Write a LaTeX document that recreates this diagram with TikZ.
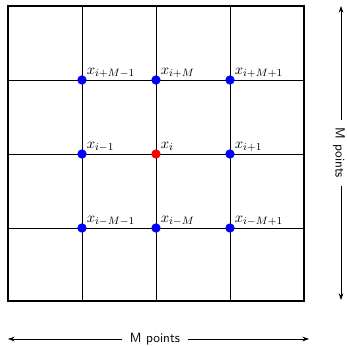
\documentclass[tikz,border=0pt]{standalone}
\usetikzlibrary{arrows.meta}
\begin{document}
\begin{tikzpicture}[x=0.75pt,y=-0.75pt,
  gridline/.style={line width=0.6pt},
  frame/.style={line width=1.2pt},
  bluedot/.style={circle,fill=blue,inner sep=0pt,minimum size=7pt},
  reddot/.style={circle,fill=red,inner sep=0pt,minimum size=7pt},
  lbl/.style={anchor=base west,inner sep=0pt,font=\fontsize{11}{13}\selectfont},
  dimarrow/.style={-{Stealth[length=5pt,width=3.5pt]},line width=0.6pt},
  dimlabel/.style={font=\sffamily\normalsize,inner sep=5.5pt}]
\useasboundingbox (0,0) rectangle (346,346);
% grid lines
\foreach \v in {82,156,230} {
  \draw[gridline] (\v,6) -- (\v,301);
  \draw[gridline] (8,\v-2) -- (304,\v-2);
}
\draw[frame] (8,6) rectangle (304,301);
% dots
\node[bluedot] (a1) at (82,80) {};
\node[bluedot] (a2) at (156,80) {};
\node[bluedot] (a3) at (230,80) {};
\node[bluedot] (b1) at (82,154) {};
\node[reddot]  (b2) at (156,154) {};
\node[bluedot] (b3) at (230,154) {};
\node[bluedot] (c1) at (82,228) {};
\node[bluedot] (c2) at (156,228) {};
\node[bluedot] (c3) at (230,228) {};
% labels
\node[lbl] (la1) at ([shift={(4.5,-5.5)}]a1.center) {$x_{i+M-1}$};
\node[lbl] (la2) at ([shift={(4.5,-5.5)}]a2.center) {$x_{i+M}$};
\node[lbl] (la3) at ([shift={(4.5,-5.5)}]a3.center) {$x_{i+M+1}$};
\node[lbl] (lb1) at ([shift={(4.5,-5.5)}]b1.center) {$x_{i-1}$};
\node[lbl] (lb2) at ([shift={(4.5,-5.5)}]b2.center) {$x_{i}$};
\node[lbl] (lb3) at ([shift={(4.5,-5.5)}]b3.center) {$x_{i+1}$};
\node[lbl] (lc1) at ([shift={(4.5,-5.5)}]c1.center) {$x_{i-M-1}$};
\node[lbl] (lc2) at ([shift={(4.5,-5.5)}]c2.center) {$x_{i-M}$};
\node[lbl] (lc3) at ([shift={(4.5,-5.5)}]c3.center) {$x_{i-M+1}$};
% dimension arrows
\coordinate (hl) at (8,339);
\coordinate (hr) at (309,339);
\node[dimlabel] (hm) at (155,339) {M points};
\draw[dimarrow] (hm) -- (hl);
\draw[dimarrow] (hm) -- (hr);
\coordinate (vt) at (341,6);
\coordinate (vb) at (341,300);
\node[dimlabel,rotate=-90] (vm) at (339,153) {M points};
\draw[dimarrow] (vt |- vm.west) -- (vt);
\draw[dimarrow] (vt |- vm.east) -- (vb);
\end{tikzpicture}
\end{document}
